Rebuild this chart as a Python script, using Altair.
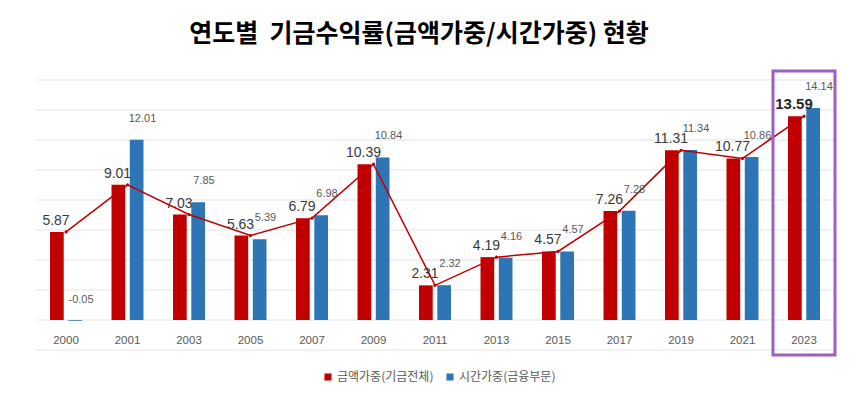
import altair as alt
import pandas as pd

years = ["2000", "2001", "2003", "2005", "2007", "2009", "2011", "2013",
         "2015", "2017", "2019", "2021", "2023"]
money_weighted = [5.87, 9.01, 7.03, 5.63, 6.79, 10.39, 2.31, 4.19, 4.57, 7.26, 11.31, 10.77, 13.59]
time_weighted = [-0.05, 12.01, 7.85, 5.39, 6.98, 10.84, 2.32, 4.16, 4.57, 7.28, 11.34, 10.86, 14.14]
series_names = ["금액가중(기금전체)", "시간가중(금융부문)"]
series_colors = ["#C00000", "#2E75B6"]
highlight_year = "2023"
title_text = "연도별\u00a0\u00a0기금수익률(금액가중/시간가중) 현황"
grid_values = [-2, 0, 2, 4, 6, 8, 10, 12, 14, 16]

rows = []
for y, a, b in zip(years, money_weighted, time_weighted):
    rows.append({"year": y, "series": series_names[0], "value": a})
    rows.append({"year": y, "series": series_names[1], "value": b})
df = pd.DataFrame(rows)
grid_df = pd.DataFrame({"value": grid_values})

NUM_FONT = "Liberation Sans"
KR_FONT = "Noto Sans CJK KR"

x_enc = alt.X("year:N", sort=years, axis=None,
              scale=alt.Scale(paddingInner=0.48, paddingOuter=0.228))
y_scale = alt.Scale(domain=[-2.4, 16.8], nice=False, zero=False)
y_enc = alt.Y("value:Q", scale=y_scale, axis=None)
y_plain = alt.Y("value:Q")

base = alt.Chart(df).transform_calculate(
    label="replace(format(datum.value, '.2f'), '\u2212', '-')"
)
is_red = alt.datum.series == series_names[0]
is_blue = alt.datum.series == series_names[1]

grid = alt.Chart(grid_df).mark_rule(color="#E3E3E3", strokeWidth=1).encode(y=y_enc)

bars = base.mark_bar().encode(
    x=x_enc,
    xOffset=alt.XOffset("series:N", sort=series_names,
                        scale=alt.Scale(paddingInner=0.25, paddingOuter=0)),
    y=y_enc,
    color=alt.Color("series:N", sort=series_names,
                    scale=alt.Scale(domain=series_names, range=series_colors),
                    legend=alt.Legend(title=None, orient="none", direction="horizontal",
                                      legendX=286, legendY=303, symbolType="square",
                                      symbolSize=50, labelFont=KR_FONT, labelFontSize=12,
                                      labelColor="#595959", columnPadding=10,
                                      labelOffset=3)),
)

red = base.transform_filter(is_red)
blue = base.transform_filter(is_blue)

line = red.mark_line(color="#C00000", strokeWidth=1.5).encode(x=x_enc, y=y_plain)
pts = red.mark_point(color="#C00000", filled=True, size=10, opacity=1).encode(x=x_enc, y=y_plain)

red_labels = red.transform_filter(alt.datum.year != highlight_year).mark_text(
    font=NUM_FONT, fontSize=14, color="#3A3A3A", baseline="bottom", dx=-10, dy=-4
).encode(x=x_enc, y=y_plain, text="label:N")

red_hl = red.transform_filter(alt.datum.year == highlight_year).mark_text(
    font=NUM_FONT, fontSize=15, fontWeight="bold", color="#262626",
    baseline="bottom", dx=-10, dy=-4
).encode(x=x_enc, y=y_plain, text="label:N")

blue_labels = blue.mark_text(
    font=NUM_FONT, fontSize=11, color="#595959", baseline="bottom", dx=15, dy=-16
).encode(x=x_enc, y=y_plain, text="label:N")

year_labels = red.mark_text(
    font=NUM_FONT, fontSize=11.5, color="#595959", baseline="middle"
).encode(x=x_enc, y=alt.datum(-1.4), text="year:N")

box = red.transform_filter(alt.datum.year == highlight_year).mark_bar(
    filled=False, stroke="#9E5FC2", strokeWidth=3, width=62
).encode(x=x_enc, y=alt.datum(16.6), y2=alt.datum(-2.33))

chart = alt.layer(grid, bars, line, pts, red_labels, red_hl, blue_labels, year_labels, box).properties(
    width=798, height=288,
    padding={"left": 36, "top": 68, "right": 32, "bottom": 45},
    autosize=alt.AutoSizeParams(type="none"),
    background="white",
    title=alt.TitleParams(title_text, font=KR_FONT, fontSize=25, fontWeight="bold",
                          color="#000000", anchor="middle", offset=21, dx=-16),
).configure_view(stroke=None)

chart.save("out.html", embed_options={"renderer": "svg", "actions": False})
